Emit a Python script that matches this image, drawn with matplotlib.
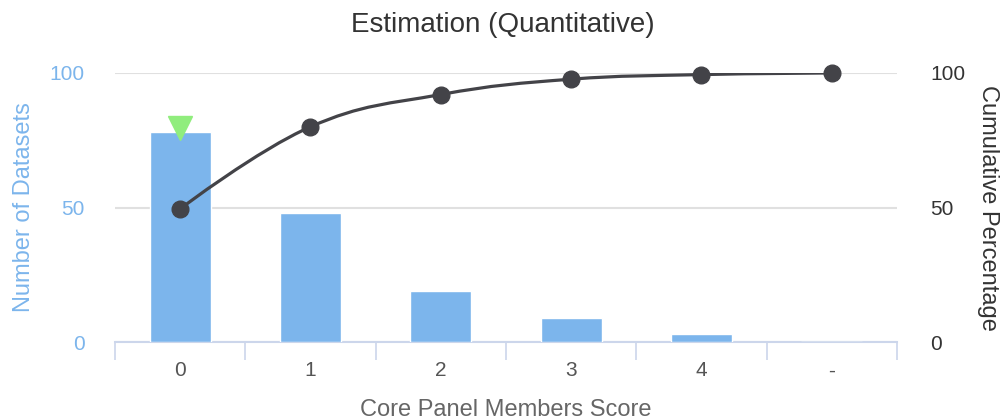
import matplotlib
matplotlib.use("Agg")
import matplotlib.pyplot as plt
from matplotlib.path import Path
from matplotlib.patches import PathPatch

plt.rcParams['font.family'] = ['Liberation Sans', 'DejaVu Sans']

# data
categories = ['0', '1', '2', '3', '4', '-']
counts = [78, 48, 19, 9, 3, 0]
cumulative = [49.5, 80, 92, 97.7, 99.4, 100]
best_index = 0

BLUE = '#7cb5ec'
DARK = '#434348'
GREEN = '#90ed7d'
GRID = '#e0e0e0'
AXIS = '#ccd6eb'


def spline_path(xs, ys, smoothing=1.5):
    # highcharts-like spline: cubic bezier through every point
    n = len(xs)
    denom = smoothing + 1
    left = [(x, y) for x, y in zip(xs, ys)]
    right = [(x, y) for x, y in zip(xs, ys)]
    for i in range(1, n - 1):
        px, py = xs[i], ys[i]
        lx, ly = xs[i - 1], ys[i - 1]
        nx, ny = xs[i + 1], ys[i + 1]
        lcx = (smoothing * px + lx) / denom
        lcy = (smoothing * py + ly) / denom
        rcx = (smoothing * px + nx) / denom
        rcy = (smoothing * py + ny) / denom
        corr = (rcy - lcy) * (rcx - px) / (rcx - lcx) + py - rcy
        lcy += corr
        rcy += corr
        if lcy > ly and lcy > py:
            lcy = max(ly, py); rcy = 2 * py - lcy
        elif lcy < ly and lcy < py:
            lcy = min(ly, py); rcy = 2 * py - lcy
        if rcy > ny and rcy > py:
            rcy = max(ny, py); lcy = 2 * py - rcy
        elif rcy < ny and rcy < py:
            rcy = min(ny, py); lcy = 2 * py - rcy
        left[i] = (lcx, lcy)
        right[i] = (rcx, rcy)
    verts = [(xs[0], ys[0])]
    codes = [Path.MOVETO]
    for i in range(1, n):
        verts += [right[i - 1], left[i], (xs[i], ys[i])]
        codes += [Path.CURVE4] * 3
    return Path(verts, codes)


fig = plt.figure(figsize=(10.05, 4.2), dpi=100)
ax = fig.add_axes([0.1144, 0.1857, 0.7781, 0.6405])
ax2 = ax.twinx()

x = list(range(len(categories)))
ax.bar(x, counts, width=0.47, color=BLUE, edgecolor='white', linewidth=1, zorder=3)
ax.plot(x[best_index], counts[best_index] + 1.5, marker='v', color=GREEN,
        markersize=17, linestyle='none', zorder=4, clip_on=False)

ax.set_xlim(-0.5, len(categories) - 0.5)
ax.set_ylim(0, 100)
ax.set_yticks([0, 50, 100])
ax.set_xticks(x)
ax.set_xticklabels(categories)
ax.set_xticks([i - 0.5 for i in range(len(categories) + 1)], minor=True)
ax.yaxis.grid(True, color=GRID, linewidth=1.5, zorder=0)
ax.set_axisbelow(True)

for s in ['top', 'left', 'right']:
    ax.spines[s].set_visible(False)
    ax2.spines[s].set_visible(False)
ax2.spines['bottom'].set_visible(False)
ax.spines['bottom'].set_color(AXIS)
ax.spines['bottom'].set_linewidth(1.5)
ax.spines['bottom'].set_zorder(2)

ax.tick_params(axis='x', which='major', length=0, pad=14, labelsize=15, labelcolor='#555555')
ax.tick_params(axis='x', which='minor', length=13, width=1.2, color=AXIS)
ax.tick_params(axis='y', length=0, pad=22, labelsize=15, labelcolor=BLUE)

ax2.set_ylim(0, 100)
ax2.set_yticks([0, 50, 100])
ax2.tick_params(axis='y', length=0, pad=24, labelsize=15, labelcolor='#333333')

patch = PathPatch(spline_path(x, cumulative), facecolor='none', edgecolor=DARK,
                  linewidth=2.3, zorder=5, transform=ax2.transData)
ax2.add_patch(patch)
ax2.plot(x, cumulative, marker='o', linestyle='none', color=DARK, markersize=12,
         zorder=6, clip_on=False)

ax.set_xlabel('Core Panel Members Score', fontsize=17, color='#666666', labelpad=13)
ax.set_ylabel('Number of Datasets', fontsize=17, color=BLUE, labelpad=10)
ax2.set_ylabel('Cumulative Percentage', fontsize=17, color='#333333', rotation=270,
               labelpad=24)
fig.suptitle('Estimation (Quantitative)', fontsize=20, color='#333333', y=0.94, va='center')

fig.savefig('out.png', dpi=100)
